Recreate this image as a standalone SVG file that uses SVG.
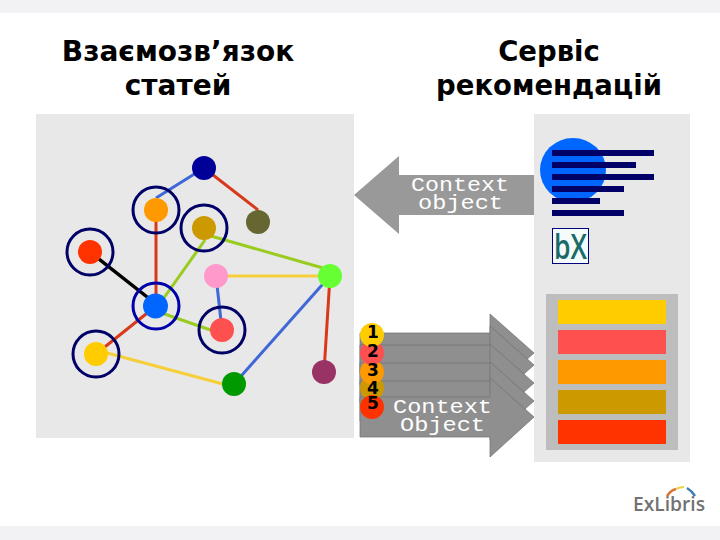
<svg xmlns="http://www.w3.org/2000/svg" width="720" height="540" viewBox="0 0 720 540">
<style>
.t{font-family:"DejaVu Sans",sans-serif;font-weight:bold;font-size:28px;fill:#000;text-anchor:middle}
.t2{font-size:27.5px}
.c{font-family:"Liberation Mono",monospace;font-size:20px;fill:#fff;text-anchor:middle}
.n{font-family:"DejaVu Sans",sans-serif;font-weight:bold;font-size:17px;fill:#000;text-anchor:middle}
.ring{fill:none;stroke:#000066;stroke-width:3}
.e{fill:none;stroke-width:3}
.blue{stroke:#3f67d8}.red{stroke:#d8391a}.lime{stroke:#99cc1f}.yel{stroke:#f5cf3a}
.arr{fill:#8f8f8f;stroke:#737373;stroke-width:.75}
.bar{fill:#000066}
</style>
<rect width="720" height="540" fill="#fff"/>
<rect width="720" height="13" fill="#f2f2f4"/>
<rect y="526" width="720" height="14" fill="#f2f2f4"/>
<text class="t" x="178" y="61">Взаємозв’язок</text>
<text class="t" x="178" y="95">статей</text>
<text class="t t2" x="549" y="61">Сервіс</text>
<text class="t t2" x="549" y="95">рекомендацій</text>
<rect x="36" y="114" width="318" height="324" fill="#e8e8e8"/>
<rect x="534" y="114" width="156" height="348" fill="#e8e8e8"/>
<g id="connectors">
<line class="e blue" x1="204" y1="168" x2="156" y2="198"/>
<line class="e red" x1="204" y1="168" x2="258" y2="210"/>
<line class="e red" x1="156" y1="210" x2="156" y2="306"/>
<line class="e lime" x1="205" y1="240" x2="156" y2="309"/>
<line class="e lime" x1="204" y1="234" x2="330" y2="270"/>
<line x1="90" y1="252" x2="156" y2="304" stroke="#000" stroke-width="3.5"/>
<line class="e yel" x1="216" y1="276" x2="330" y2="276"/>
<line class="e blue" x1="216" y1="276" x2="222" y2="330"/>
<line class="e lime" x1="156" y1="311" x2="222" y2="334"/>
<line class="e red" x1="156" y1="306" x2="96" y2="354"/>
<line class="e yel" x1="96" y1="350" x2="234" y2="387"/>
<line class="e blue" x1="330" y1="276" x2="234" y2="384"/>
<line class="e red" x1="330" y1="276" x2="324" y2="372"/>
</g>
<g id="node-navy"><circle cx="204" cy="168" r="12" fill="#000099"/></g>
<g id="node-orange"><circle cx="156" cy="210" r="23" class="ring"/><circle cx="156" cy="210" r="12" fill="#ff9900"/></g>
<g id="node-gold"><circle cx="204" cy="228" r="23" class="ring"/><circle cx="204" cy="228" r="12" fill="#cc9900"/></g>
<g id="node-olive"><circle cx="258" cy="222" r="12" fill="#666633"/></g>
<g id="node-red"><circle cx="90" cy="252" r="23" class="ring"/><circle cx="90" cy="252" r="12" fill="#ff3300"/></g>
<g id="node-pink"><circle cx="216" cy="276" r="12" fill="#ff99cc"/></g>
<g id="node-lime"><circle cx="330" cy="276" r="12" fill="#66ff33"/></g>
<g id="node-blue"><circle cx="156" cy="306" r="23" fill="none" stroke="#0000aa" stroke-width="3"/><circle cx="155.500" cy="306" r="12.5" fill="#0066ff"/></g>
<g id="node-coral"><circle cx="222" cy="330" r="23" class="ring"/><circle cx="222" cy="330" r="12" fill="#ff5050"/></g>
<g id="node-yellow"><circle cx="96" cy="354" r="23" class="ring"/><circle cx="96" cy="354" r="12" fill="#ffcc00"/></g>
<g id="node-green"><circle cx="234" cy="384" r="12" fill="#009900"/></g>
<g id="node-purple"><circle cx="324" cy="372" r="12" fill="#993366"/></g>
<g id="arrow-left">
<polygon points="354,195 399,156 399,175 534,175 534,215 399,215 399,234" fill="#999"/>
<text class="c" x="460" y="191" textLength="98" lengthAdjust="spacingAndGlyphs">Context</text>
<text class="c" x="460.500" y="209" textLength="85" lengthAdjust="spacingAndGlyphs">object</text>
</g>
<g id="arrows-right">
<polygon class="arr" points="360,333 490,333 490,314 534,353 490,392 490,373 360,373"/>
<polygon class="arr" points="360,345 490,345 490,326 534,365 490,404 490,385 360,385"/>
<polygon class="arr" points="360,363 490,363 490,344 534,383 490,422 490,403 360,403"/>
<polygon class="arr" points="360,381 490,381 490,362 534,401 490,440 490,421 360,421"/>
<polygon class="arr" points="360,397 490,397 490,378 534,417 490,457 490,437 360,437"/>
<text class="c" x="442.500" y="413" textLength="99" lengthAdjust="spacingAndGlyphs">Context</text>
<text class="c" x="442.500" y="431" textLength="85" lengthAdjust="spacingAndGlyphs">Object</text>
</g>
<g id="ranks">
<circle cx="372" cy="388" r="12" fill="#cc9900"/>
<circle cx="372" cy="372" r="12" fill="#ff9900"/>
<circle cx="372" cy="353" r="12" fill="#ff5050"/>
<circle cx="372" cy="335" r="12" fill="#ffcc00"/>
<circle cx="372" cy="407" r="12" fill="#ff3300"/>
<text class="n" x="373" y="338">1</text>
<text class="n" x="373" y="357">2</text>
<text class="n" x="373" y="376">3</text>
<text class="n" x="373" y="394">4</text>
<text class="n" x="373" y="409">5</text>
</g>
<g id="record">
<ellipse cx="573" cy="170" rx="33" ry="32" fill="#0066ff"/>
<rect class="bar" x="552" y="150" width="102" height="6"/>
<rect class="bar" x="552" y="162" width="84" height="6"/>
<rect class="bar" x="552" y="174" width="102" height="6"/>
<rect class="bar" x="552" y="186" width="72" height="6"/>
<rect class="bar" x="552" y="198" width="48" height="6"/>
<rect class="bar" x="552" y="210" width="72" height="6"/>
</g>
<g id="bx">
<rect x="552.5" y="228.5" width="36" height="35" fill="#f4fbfb" stroke="#000080"/>
<text x="570.500" y="259" font-family="'Open Sans',sans-serif" font-weight="600" font-size="34" fill="#1a6b68" text-anchor="middle" textLength="33" lengthAdjust="spacingAndGlyphs">bX</text>
</g>
<g id="list">
<rect x="546" y="294" width="132" height="156" fill="#bdbdbd"/>
<rect x="558" y="300" width="108" height="24" fill="#ffcc00"/>
<rect x="558" y="330" width="108" height="24" fill="#ff5050"/>
<rect x="558" y="360" width="108" height="24" fill="#ff9900"/>
<rect x="558" y="390" width="108" height="24" fill="#cc9900"/>
<rect x="558" y="420" width="108" height="24" fill="#ff3300"/>
</g>
<g id="logo">
<text x="669" y="511" font-family="'Open Sans',sans-serif" font-weight="600" font-size="20" fill="#727272" text-anchor="middle" textLength="72" lengthAdjust="spacingAndGlyphs">ExLibris</text>
<path d="M667 496Q671 490 676 489" fill="none" stroke="#d9722b" stroke-width="2.500"/>
<path d="M676 489Q680 487 684 487" fill="none" stroke="#e8d44a" stroke-width="2"/>
<path d="M687 488Q692 491 695 496" fill="none" stroke="#3f7fb5" stroke-width="2.500"/>
</g>
</svg>
